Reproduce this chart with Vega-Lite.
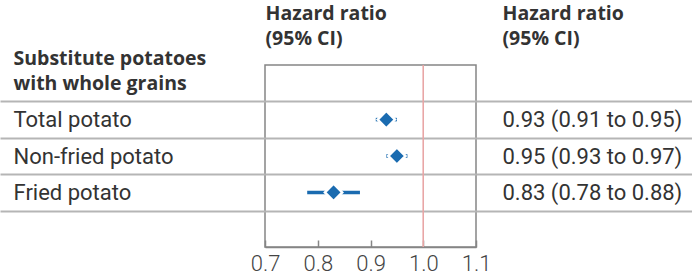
{
  "$schema": "https://vega.github.io/schema/vega-lite/v6.json",
  "width": 211,
  "height": 182,
  "autosize": {"type": "none"},
  "padding": {"left": 265, "top": 65, "right": 216, "bottom": 32},
  "background": "white",
  "config": {
    "view": {"stroke": "#858585", "strokeWidth": 1.5},
    "font": "Roboto"
  },
  "data": {
    "values": [
      {"outcome": "Total potato", "hr": 0.93, "lo": 0.91, "hi": 0.95, "label": "0.93 (0.91 to 0.95)"},
      {"outcome": "Non-fried potato", "hr": 0.95, "lo": 0.93, "hi": 0.97, "label": "0.95 (0.93 to 0.97)"},
      {"outcome": "Fried potato", "hr": 0.83, "lo": 0.78, "hi": 0.88, "label": "0.83 (0.78 to 0.88)"}
    ]
  },
  "layer": [
    {
      "layer": [
        {
          "mark": {"type": "rule", "color": "#e8a5a5", "strokeWidth": 1},
          "encoding": {
            "x": {"datum": 1.0, "type": "quantitative"}
          }
        },
        {
          "mark": {"type": "rule", "color": "#1a6bb0", "strokeWidth": 3.5},
          "encoding": {
            "y": {
              "field": "outcome", "type": "nominal", "sort": null,
              "scale": {"type": "band", "paddingInner": 0, "paddingOuter": 1},
              "axis": {
                "orient": "left",
                "title": ["Substitute potatoes", "with whole grains"],
                "titleAngle": 0, "titleAlign": "left", "titleBaseline": "alphabetic",
                "titleX": -252, "titleY": -1,
                "titleFont": "Open Sans", "titleFontSize": 19.5, "titleFontWeight": "bold", "titleColor": "#333333", "titleLineHeight": 25,
                "tickBand": "extent", "tickSize": 265, "tickColor": "#b5b5b5", "tickWidth": 2,
                "grid": true, "gridColor": "#b5b5b5", "gridWidth": 2,
                "domain": false,
                "labelAlign": "left", "labelPadding": -13, "labelFontSize": 22, "labelColor": "#333333", "labelLimit": 0
              }
            },
            "x": {
              "field": "lo", "type": "quantitative",
              "scale": {"domain": [0.7, 1.1], "nice": false, "zero": false},
              "axis": {
                "values": [0.7, 0.8, 0.9, 1.0, 1.1], "format": ".1f",
                "title": ["Hazard ratio", "(95% CI)"],
                "titleAngle": 0, "titleAlign": "left", "titleBaseline": "alphabetic",
                "titleX": 0, "titleY": -228,
                "titleFont": "Open Sans", "titleFontSize": 19.5, "titleFontWeight": "bold", "titleColor": "#333333", "titleLineHeight": 25,
                "labelFontSize": 22, "labelColor": "#444444", "labelFontWeight": 300,
                "labelFlush": false, "labelOverlap": false,
                "labelPadding": 13, "tickSize": -7, "tickColor": "#858585", "tickWidth": 1.5,
                "domain": true, "domainColor": "#858585", "domainWidth": 1.5, "grid": false
              }
            },
            "x2": {"field": "hi"}
          }
        },
        {
          "mark": {"type": "point", "shape": "diamond", "filled": true, "size": 300, "color": "#1a6bb0", "stroke": "white", "strokeWidth": 2.5, "opacity": 1},
          "encoding": {
            "y": {"field": "outcome", "type": "nominal", "sort": null},
            "x": {"field": "hr", "type": "quantitative"}
          }
        }
      ]
    },
    {
      "mark": {"type": "point", "opacity": 0},
      "encoding": {
        "y": {
          "field": "label", "type": "nominal", "sort": null,
          "scale": {"type": "band", "paddingInner": 0, "paddingOuter": 1},
          "axis": {
            "orient": "right",
            "title": ["Hazard ratio", "(95% CI)"],
            "titleAngle": 0, "titleAlign": "left", "titleBaseline": "alphabetic",
            "titleX": 26, "titleY": -46,
            "titleFont": "Open Sans", "titleFontSize": 19.5, "titleFontWeight": "bold", "titleColor": "#333333", "titleLineHeight": 25,
            "tickBand": "extent", "tickSize": 216, "tickColor": "#b5b5b5", "tickWidth": 2,
            "grid": false, "domain": false,
            "labelAlign": "left", "labelPadding": -190, "labelFontSize": 22, "labelColor": "#333333", "labelLimit": 0
          }
        },
        "x": {"field": "hr", "type": "quantitative"}
      }
    }
  ],
  "resolve": {"scale": {"y": "independent"}}
}
